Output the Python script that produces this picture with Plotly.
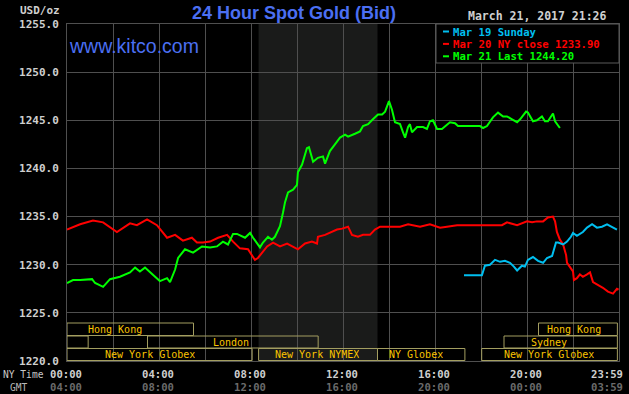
import plotly.graph_objects as go

# ---------------- data (hours since 00:00 NY time, price USD/oz) ----------------
mar21_hours = [0, 0.26, 0.57, 1.09, 1.22, 1.57, 1.87, 2.30, 2.74, 2.96, 3.17, 3.39, 3.83, 4.04,
               4.35, 4.48, 4.70, 4.83, 5.13, 5.48, 5.87, 6.22, 6.52, 6.78, 7.0, 7.22, 7.39, 7.74,
               7.96, 8.09, 8.39, 8.52, 8.74, 8.91, 9.04, 9.26, 9.39, 9.48, 9.61, 9.83, 10.0, 10.04,
               10.22, 10.43, 10.52, 10.70, 10.91, 11.13, 11.22, 11.43, 11.65, 11.87, 12.09, 12.22,
               12.52, 12.74, 12.87, 13.09, 13.30, 13.52, 13.70, 13.83, 14.0, 14.13, 14.26, 14.48,
               14.61, 14.70, 14.83, 14.91, 15.0, 15.22, 15.48, 15.65, 15.78, 15.91, 16.09, 16.30,
               16.65, 16.87, 17.0, 17.96, 18.09, 18.26, 18.52, 18.74, 18.96, 19.13, 19.35, 19.57,
               19.70, 19.96, 20.04, 20.26, 20.43, 20.65, 20.78, 20.91, 21.13, 21.22, 21.43]
mar21_price = [1228.1, 1228.4, 1228.4, 1228.5, 1228.1, 1227.7, 1228.5, 1228.75, 1229.2, 1229.7,
               1229.3, 1229.7, 1228.75, 1228.3, 1228.6, 1228.2, 1229.5, 1230.7, 1231.6, 1231.25,
               1231.9, 1231.8, 1231.9, 1232.4, 1232.1, 1233.2, 1233.2, 1232.8, 1233.3, 1232.8,
               1231.8, 1232.3, 1232.9, 1232.6, 1232.9, 1234.0, 1235.4, 1236.5, 1237.5, 1237.8,
               1238.3, 1239.6, 1240.4, 1242.1, 1242.2, 1240.7, 1241.1, 1241.25, 1240.5, 1241.8,
               1242.5, 1243.2, 1243.5, 1243.3, 1243.6, 1243.85, 1244.4, 1244.6, 1245.1, 1245.6,
               1245.6, 1245.9, 1247.0, 1246.1, 1244.8, 1244.6, 1243.75, 1243.2, 1244.3, 1244.6,
               1243.75, 1244.3, 1244.3, 1244.1, 1244.9, 1245.0, 1244.1, 1244.1, 1244.8, 1244.7,
               1244.4, 1244.4, 1244.2, 1244.4, 1245.3, 1245.8, 1245.4, 1245.4, 1245.1, 1244.8,
               1245.1, 1245.9, 1245.8, 1244.9, 1245.0, 1245.4, 1244.9, 1244.9, 1245.7, 1244.9, 1244.2]

mar20_hours = [0, 0.57, 1.13, 1.57, 2.17, 2.74, 3.04, 3.48, 3.91, 4.35, 4.70, 5.04, 5.43, 5.65,
               5.91, 6.22, 6.57, 6.96, 7.22, 7.52, 7.87, 8.17, 8.30, 8.48, 8.70, 8.96, 9.26, 9.57,
               9.83, 10.04, 10.35, 10.65, 10.87, 10.91, 11.22, 11.43, 11.74, 11.96, 12.22, 12.39,
               12.65, 12.87, 13.17, 13.39, 13.61, 14.04, 14.48, 14.83, 15.35, 15.78, 16.22, 16.52,
               16.96, 18.91, 19.13, 19.57, 20.0, 20.22, 20.43, 20.70, 20.91, 21.13, 21.22, 21.30,
               21.43, 21.57, 21.70, 21.74, 21.87, 22.0, 22.04, 22.17, 22.30, 22.43, 22.61, 22.74,
               22.87, 23.09, 23.30, 23.52, 23.74, 23.91, 23.98]
mar20_price = [1233.65, 1234.2, 1234.6, 1234.4, 1233.4, 1234.3, 1234.1, 1234.7, 1234.1, 1232.8,
               1233.1, 1232.5, 1232.8, 1232.3, 1232.3, 1232.4, 1232.8, 1233.1, 1232.4, 1231.7,
               1231.6, 1230.5, 1230.7, 1231.25, 1231.9, 1232.3, 1231.9, 1232.2, 1231.9, 1231.6,
               1232.2, 1232.4, 1232.2, 1232.9, 1233.1, 1233.3, 1233.65, 1233.75, 1233.95, 1233.1,
               1232.9, 1233.1, 1233.1, 1233.65, 1233.95, 1233.95, 1233.95, 1234.2, 1233.95, 1234.2,
               1233.85, 1233.95, 1234.1, 1234.1, 1234.4, 1234.1, 1234.5, 1234.4, 1234.5, 1234.5,
               1234.9, 1235.0, 1234.5, 1233.4, 1232.6, 1232.1, 1231.0, 1230.2, 1229.8, 1229.3,
               1228.4, 1228.6, 1229.0, 1228.75, 1229.0, 1229.2, 1228.2, 1227.9, 1227.6, 1227.2,
               1227.0, 1227.5, 1227.4]

mar19_hours = [17.26, 18.04, 18.17, 18.39, 18.61, 18.83, 19.04, 19.26, 19.43, 19.57, 19.78, 19.91,
               20.04, 20.26, 20.48, 20.70, 20.87, 21.09, 21.26, 21.35, 21.57, 21.74, 21.91, 22.0,
               22.17, 22.43, 22.61, 22.83, 23.04, 23.26, 23.48, 23.74, 23.91]
mar19_price = [1228.9, 1228.9, 1229.9, 1230.0, 1230.5, 1230.3, 1230.4, 1230.2, 1229.8, 1229.4,
               1229.9, 1229.8, 1230.5, 1230.8, 1230.4, 1230.2, 1230.7, 1230.9, 1232.3, 1232.3,
               1232.1, 1232.4, 1232.9, 1233.3, 1233.0, 1233.4, 1233.85, 1234.2, 1233.85, 1233.95,
               1234.2, 1233.85, 1233.65]

legend_labels = ["Mar 19 Sunday", "Mar 20 NY close 1233.90", "Mar 21 Last 1244.20"]
ny_time_labels = ["00:00", "04:00", "08:00", "12:00", "16:00", "20:00", "23:59"]
gmt_labels = ["04:00", "08:00", "12:00", "16:00", "20:00", "00:00", "03:59"]
label_hours = [0, 4, 8, 12, 16, 20, 24]

# market sessions: (name, start hour, end hour, row)
sessions = [
    ("Hong Kong", 0.0, 5.5, 0), ("Hong Kong", 20.5, 23.93, 0),
    ("", 0.0, 0.92, 1), ("London", 3.5, 10.92, 1), ("Sydney", 19.0, 23.93, 1),
    ("New York Globex", 0.0, 8.05, 2), ("New York NYMEX", 8.33, 13.5, 2),
    ("NY Globex", 13.5, 17.3, 2), ("New York Globex", 18.03, 23.93, 2),
]
session_label_hours = [2.1, 22.05, None, 7.13, 20.96, 3.6, 10.85, 15.17, 20.96]
nymex_open, nymex_close = 8.33, 13.5

# ---------------- styling ----------------
W, H = 629, 394
L, R, T, B = 67, 10, 24, 33
PW, PH = W - L - R, H - T - B
MONO = "DejaVu Sans Mono"
SANS = "Liberation Sans"
GRID = "#4f4f4f"
BOX = "#a39e60"
AMBER = "#fac400"
BLUE = "#4b6ff2"
colors = ["#00bff0", "#ff0000", "#00ff00"]


def pxx(x):
    return (x - L) / PW


def pxy(y):
    return (H - B - y) / PH


fig = go.Figure()
for hrs, pr, c in [(mar20_hours, mar20_price, colors[1]),
                   (mar19_hours, mar19_price, colors[0]),
                   (mar21_hours, mar21_price, colors[2])]:
    fig.add_trace(go.Scatter(x=hrs, y=pr, mode="lines", line=dict(color=c, width=2),
                             hoverinfo="skip", showlegend=False))

shapes = []
# NYMEX shading
shapes.append(dict(type="rect", xref="x", yref="paper", x0=nymex_open, x1=nymex_close,
                   y0=0, y1=1, fillcolor="#1a1b1a", line=dict(width=0), layer="below"))
# session boxes
row_bounds = [(323, 335.5), (336, 348), (348.5, 360.5)]
annotations = []
for (name, s, e, row), lh in zip(sessions, session_label_hours):
    yt, yb = row_bounds[row]
    shapes.append(dict(type="rect", xref="x", yref="paper", x0=s, x1=e,
                       y0=pxy(yb), y1=pxy(yt), line=dict(color=BOX, width=1),
                       fillcolor="rgba(0,0,0,0)", layer="above"))
    if name:
        annotations.append(dict(x=lh, y=pxy((yt + yb) / 2), xref="x", yref="paper", text=name,
                                showarrow=False, xanchor="center", yanchor="middle",
                                borderpad=0, height=11,
                                font=dict(family=MONO, size=10, color=AMBER)))

# legend box
shapes.append(dict(type="rect", xref="paper", yref="paper", x0=pxx(436), x1=pxx(619),
                   y0=pxy(63), y1=pxy(24), fillcolor="#000000",
                   line=dict(color="#5a5a5a", width=1), layer="above"))
for i, (lab, c) in enumerate(zip(legend_labels, colors)):
    yy = 31.5 + i * 12.4
    shapes.append(dict(type="line", xref="paper", yref="paper", x0=pxx(443), x1=pxx(449),
                       y0=pxy(yy), y1=pxy(yy), line=dict(color=c, width=2), layer="above"))
    annotations.append(dict(x=pxx(451.5), y=pxy(yy), xref="paper", yref="paper", text=lab,
                            showarrow=False, xanchor="left", yanchor="middle", borderpad=0,
                            font=dict(family=MONO, size=10.6, color=c, weight="bold")))

# time labels
for i, (h, ny, g) in enumerate(zip(label_hours, ny_time_labels, gmt_labels)):
    xa = "right" if i == len(label_hours) - 1 else "center"
    xs = 5 if xa == "right" else -1.5
    annotations.append(dict(x=h, y=pxy(374), xref="x", yref="paper", text=ny, showarrow=False,
                            xanchor=xa, yanchor="middle", xshift=xs, borderpad=0,
                            font=dict(family=MONO, size=10.6, color="#cfcfcf", weight="bold")))
    annotations.append(dict(x=h, y=pxy(387), xref="x", yref="paper", text=g, showarrow=False,
                            xanchor=xa, yanchor="middle", xshift=xs, borderpad=0,
                            font=dict(family=MONO, size=10.6, color="#6a6a6a", weight="bold")))

annotations += [
    dict(x=pxx(2), y=pxy(374), xref="paper", yref="paper", text="NY Time", showarrow=False,
         xanchor="left", yanchor="middle", borderpad=0,
         font=dict(family=MONO, size=9.6, color="#c8c8c8")),
    dict(x=pxx(9), y=pxy(387), xref="paper", yref="paper", text="GMT", showarrow=False,
         xanchor="left", yanchor="middle", borderpad=0,
         font=dict(family=MONO, size=9.6, color="#b8b8b8")),
    dict(x=pxx(61), y=pxy(10.5), xref="paper", yref="paper", text="USD/oz", showarrow=False,
         xanchor="right", yanchor="middle", borderpad=0,
         font=dict(family=MONO, size=11, color="#cfcfcf", weight="bold")),
    dict(x=pxx(293.5), y=pxy(13), xref="paper", yref="paper", text="24 Hour Spot Gold (Bid)",
         showarrow=False, xanchor="center", yanchor="middle", borderpad=0,
         font=dict(family=SANS, size=18, color=BLUE, weight="bold")),
    dict(x=pxx(68), y=pxy(46), xref="paper", yref="paper", text="www.kitco.com",
         showarrow=False, xanchor="left", yanchor="middle", borderpad=0,
         font=dict(family=SANS, size=19.5, color=BLUE)),
    dict(x=pxx(608), y=pxy(16), xref="paper", yref="paper", text="March 21, 2017 21:26",
         showarrow=False, xanchor="right", yanchor="middle", borderpad=0,
         font=dict(family=MONO, size=11.5, color="#d0d0d0", weight="bold")),
]

fig.update_layout(
    width=W, height=H, margin=dict(l=L, r=R, t=T, b=B, pad=0),
    paper_bgcolor="#000000", plot_bgcolor="#000000",
    shapes=shapes, annotations=annotations, showlegend=False,
    xaxis=dict(range=[0, 24], dtick=2, tick0=0, showgrid=True, gridcolor=GRID, gridwidth=1,
               showticklabels=False, zeroline=False, showline=True, mirror=True,
               linecolor=GRID, linewidth=1, fixedrange=True),
    yaxis=dict(range=[1220, 1255], dtick=5, tick0=1220, tickformat=".1f", showgrid=True,
               gridcolor=GRID, gridwidth=1, zeroline=False, showline=True, mirror=True,
               linecolor=GRID, linewidth=1, ticks="", ticklabelstandoff=5,
               tickfont=dict(family=MONO, size=11, color="#cfcfcf", weight="bold"),
               fixedrange=True),
)

fig.write_html("out.html")
